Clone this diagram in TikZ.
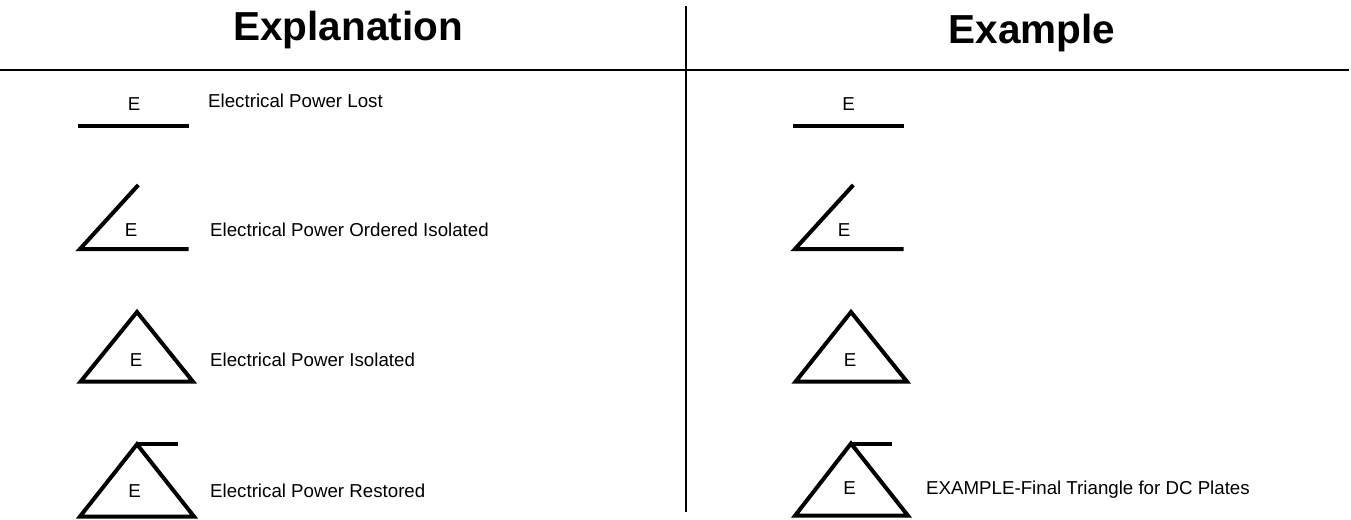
\documentclass[tikz,border=0pt]{standalone}
\usepackage{fontspec}
\setmainfont{Liberation Sans}
\begin{document}
\begin{tikzpicture}[x=1pt,y=-1pt,
  hdr/.style={font=\fontsize{40.5}{44}\selectfont\bfseries, inner sep=0pt, anchor=base},
  lbl/.style={font=\fontsize{18.7}{22}\selectfont, inner sep=0pt, anchor=base west},
  sym/.style={font=\fontsize{18.7}{22}\selectfont, inner sep=0pt, anchor=base},
  rule/.style={line width=2.2pt},
  symline/.style={line width=4pt, line join=miter},
]
\useasboundingbox (0,0) rectangle (1351,519);
% headers
\node[hdr] (h1) at (348,40.5) {Explanation};
\node[hdr] (h2) at (1032,44) {Example};
% rules
\coordinate (hl) at (0,70);
\coordinate (hr) at (1349,70);
\coordinate (vt) at (686.3,6);
\coordinate (vb) at (686.3,512);
\draw[rule] (hl) -- (hr);
\draw[line width=2pt] (vt) -- (vb);

% ---- left column symbols ----
% row 1
\coordinate (a1) at (78,126.3);
\coordinate (a2) at (188.5,126.3);
\draw[symline] (a1) -- (a2);
\node[sym] (e1) at (134,110) {E};
% row 2
\coordinate (b1) at (138.3,185);
\coordinate (b2) at (80,249);
\coordinate (b3) at (188.5,249);
\draw[symline] (b1) -- (b2) -- (b3);
\node[sym] (e2) at (131,236.5) {E};
% row 3
\coordinate (c1) at (137,312);
\coordinate (c2) at (80.5,381.7);
\coordinate (c3) at (193,381.7);
\draw[symline] (c1) -- (c2) -- (c3) -- cycle;
\node[sym] (e3) at (136,366.5) {E};
% row 4
\coordinate (d0) at (177.5,444.3);
\coordinate (d1) at (137,444.3);
\coordinate (d2) at (80,516.5);
\coordinate (d3) at (194,516.5);
\draw[symline] (d1) -- (d2) -- (d3) -- cycle;
\draw[symline] (d1) -- (d0);
\node[sym] (e4) at (134.7,497.5) {E};

% labels
\node[lbl] (t1) at (208,107.5) {Electrical Power Lost};
\node[lbl] (t2) at (210,236.3) {Electrical Power Ordered Isolated};
\node[lbl] (t3) at (210,366.5) {Electrical Power Isolated};
\node[lbl] (t4) at (210,497.5) {Electrical Power Restored};

% ---- right column symbols ----
\begin{scope}[xshift=715pt]
\coordinate (ra1) at (78,126.3);
\coordinate (ra2) at (188.5,126.3);
\draw[symline] (ra1) -- (ra2);
\node[sym] (re1) at (133.5,110) {E};
\coordinate (rb1) at (138.3,185);
\coordinate (rb2) at (80,249);
\coordinate (rb3) at (188.5,249);
\draw[symline] (rb1) -- (rb2) -- (rb3);
\node[sym] (re2) at (129,236.5) {E};
\coordinate (rc1) at (136,312);
\coordinate (rc2) at (80.5,381.7);
\coordinate (rc3) at (192,381.7);
\draw[symline] (rc1) -- (rc2) -- (rc3) -- cycle;
\node[sym] (re3) at (135,366.5) {E};
\coordinate (rd0) at (177,443.5);
\coordinate (rd1) at (136,443.5);
\coordinate (rd2) at (80,515.7);
\coordinate (rd3) at (193,515.7);
\draw[symline] (rd1) -- (rd2) -- (rd3) -- cycle;
\draw[symline] (rd1) -- (rd0);
\node[sym] (re4) at (134.7,494.5) {E};
\end{scope}
\node[lbl] (t5) at (926,494.5) {EXAMPLE-Final Triangle for DC Plates};
\end{tikzpicture}
\end{document}
